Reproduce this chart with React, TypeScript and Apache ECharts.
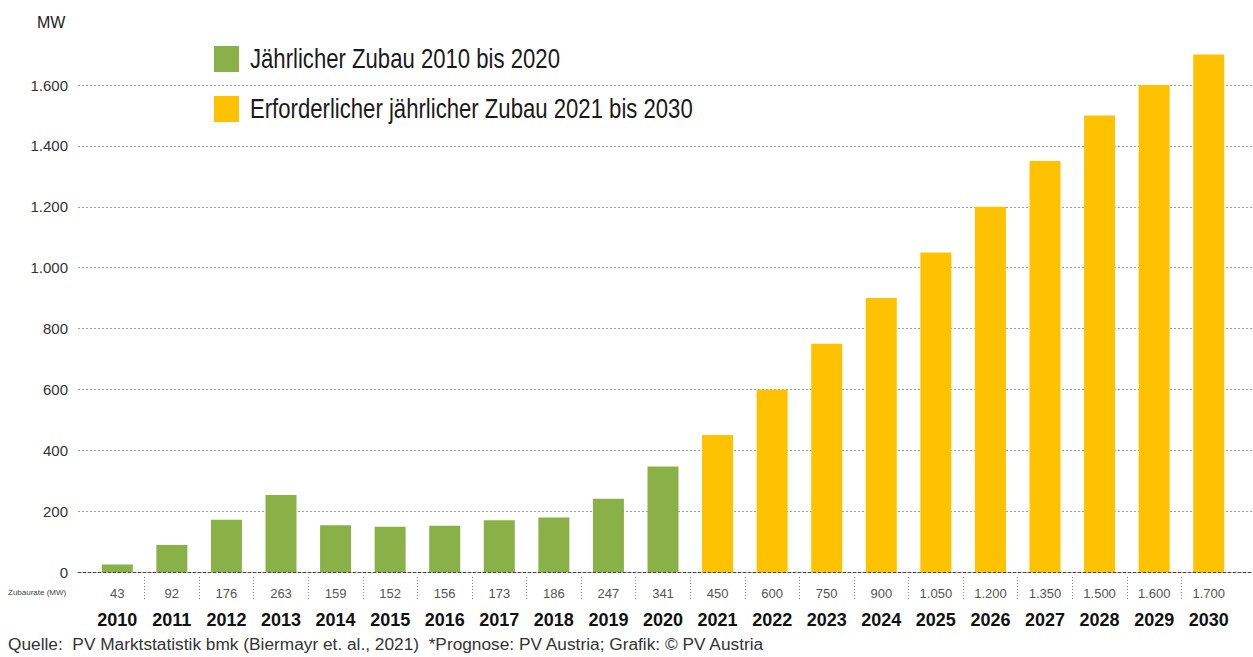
import React, { useEffect, useRef } from "react";
import * as echarts from "echarts";

const years = ["2010","2011","2012","2013","2014","2015","2016","2017","2018","2019","2020","2021","2022","2023","2024","2025","2026","2027","2028","2029","2030"];
const historicBars = [25, 89, 172, 253, 154, 149, 152, 170, 179, 241, 347];
const forecastBars = [450, 600, 750, 900, 1050, 1200, 1350, 1500, 1600, 1700];
const tableValues = ["43","92","176","263","159","152","156","173","186","247","341","450","600","750","900","1.050","1.200","1.350","1.500","1.600","1.700"];
const historicName = "Jährlicher Zubau 2010 bis 2020";
const forecastName = "Erforderlicher jährlicher Zubau 2021 bis 2030";
const greenColor = "#8AB147";
const yellowColor = "#FEC200";
const yMax = 1600;
const yStep = 200;

const SANS = "'Liberation Sans', Arial, sans-serif";

const fmt = (v: number) => String(v).replace(/\B(?=(\d{3})+(?!\d))/g, ".");

const legendItem = (name: string, color: string, y: number) => ({
  type: "group",
  x: 214,
  y,
  children: [
    { type: "rect", shape: { x: 0, y: 0, width: 25, height: 26 }, style: { fill: color } },
    {
      type: "text", x: 36, y: 13, scaleX: 0.82,
      style: { text: name, fontFamily: SANS, fontSize: 27, fill: "#1a1a1a", verticalAlign: "middle", align: "left" },
    },
  ],
});

export default function App() {
  const ref = useRef<HTMLDivElement>(null);
  useEffect(() => {
    if (!ref.current) return;
    const chart = echarts.init(ref.current, null, { renderer: "svg" });
    const greenData = [...historicBars, ...forecastBars.map(() => "-")];
    const yellowData = [...historicBars.map(() => "-"), ...forecastBars];
    chart.setOption({
      animation: false,
      backgroundColor: "#ffffff",
      grid: [
        { left: 90, right: 17, top: 85, bottom: 85 },
        { left: 78, right: 0, top: 85, bottom: 85 },
        { left: 90, right: 17, top: 577, height: 23 },
      ],
      xAxis: [
        {
          type: "category", gridIndex: 0, data: years, position: "bottom",
          axisLine: { show: false }, axisTick: { show: false },
          axisLabel: { margin: 39, fontFamily: SANS, fontSize: 18, fontWeight: "bold", color: "#111", interval: 0 },
        },
        {
          type: "category", gridIndex: 0, data: years, position: "bottom", offset: 0,
          axisLine: { show: false }, axisTick: { show: false },
          axisLabel: { margin: 15, fontFamily: SANS, fontSize: 13, color: "#555", interval: 0,
            formatter: (_v: string, i: number) => tableValues[i] },
        },
        {
          type: "value", gridIndex: 1, min: 0, max: 1, show: true,
          axisLine: { show: true, onZero: false, lineStyle: { type: [3, 2], color: "#444", width: 1 } },
          axisTick: { show: false }, axisLabel: { show: false }, splitLine: { show: false },
        },
        {
          type: "category", gridIndex: 2, data: years,
          axisLine: { show: false }, axisTick: { show: false }, axisLabel: { show: false },
          splitLine: { show: true, showMinLine: false, showMaxLine: false, interval: 0, lineStyle: { type: [1, 2], color: "#888", width: 1 } },
        },
      ],
      yAxis: [
        { type: "value", gridIndex: 0, min: 0, max: yMax, interval: yStep, show: false, splitLine: { show: false } },
        {
          type: "value", gridIndex: 1, min: 0, max: yMax, interval: yStep,
          axisLine: { show: false }, axisTick: { show: false },
          axisLabel: { margin: 10, fontFamily: SANS, fontSize: 15, color: "#333", formatter: (v: number) => fmt(v) },
          splitLine: { show: true, showMinLine: false, lineStyle: { type: [2, 2], color: "#a0a0a0", width: 1 } },
        },
        { type: "value", gridIndex: 2, show: false, min: 0, max: 1, splitLine: { show: false } },
      ],
      series: [
        {
          name: historicName, type: "bar", xAxisIndex: 0, yAxisIndex: 0, data: greenData,
          barWidth: 31, barGap: "-100%", clip: false, itemStyle: { color: greenColor },
        },
        {
          name: forecastName, type: "bar", xAxisIndex: 0, yAxisIndex: 0, data: yellowData,
          barWidth: 31, barGap: "-100%", clip: false, itemStyle: { color: yellowColor },
        },
      ],
      graphic: [
        legendItem(historicName, greenColor, 46),
        legendItem(forecastName, yellowColor, 96),
        { type: "text", left: 37, top: 14, style: { text: "MW", fontFamily: SANS, fontSize: 16, fill: "#222" } },
        { type: "text", left: 8, top: 588, style: { text: "Zubaurate (MW)", fontFamily: SANS, fontSize: 8, fill: "#444" } },
        { type: "text", left: 8, top: 635, style: { text: "Quelle:  PV Marktstatistik bmk (Biermayr et. al., 2021)  *Prognose: PV Austria; Grafik: © PV Austria", fontFamily: SANS, fontSize: 17.3, fill: "#333" } },
      ],
    });
    return () => chart.dispose();
  }, []);
  return <div ref={ref} style={{ position: "fixed", left: 0, top: 0, width: 1253, height: 657 }} />;
}
